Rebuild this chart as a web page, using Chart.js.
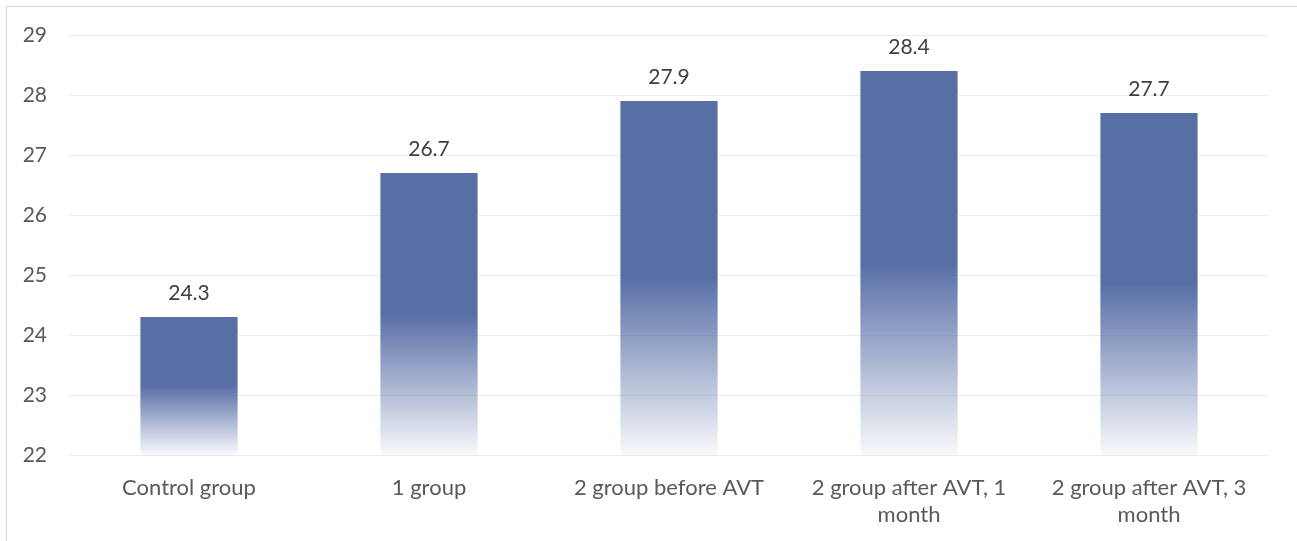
<!DOCTYPE html>
<html>
<head>
<meta charset="utf-8">
<script src="https://cdn.jsdelivr.net/npm/chart.js@4/dist/chart.umd.min.js"></script>
<style>
    html, body { margin: 0; padding: 0; background: #fff; overflow: hidden; }
    #wrap { position: relative; width: 1297px; height: 541px; }
    #frame { position: absolute; left: 6px; top: 6px; width: 1400px; height: 700px; border: 1px solid #d9d9d9; box-sizing: border-box; }
    canvas { position: absolute; left: 0; top: 0; }
</style>
</head>
<body>
<div id="wrap">
    <div id="frame"></div>
    <canvas id="chart" width="1297" height="541"></canvas>
</div>
<script>
// Data
const categories = [
    'Control group',
    '1 group',
    '2 group before AVT',
    ['2 group after AVT, 1', 'month'],
    ['2 group after AVT, 3', 'month']
];
const values = [24.3, 26.7, 27.9, 28.4, 27.7];
const yTicks = [22, 23, 24, 25, 26, 27, 28, 29];

const FONT = 'Lato, "Open Sans", sans-serif';

// fade each bar from solid blue to almost white over its lower half
function barFill(context) {
    const chart = context.chart;
    const area = chart.chartArea;
    const y = chart.scales.y;
    if (!area || !y) return '#586fa6';
    const top = y.getPixelForValue(context.raw);
    const bottom = y.getPixelForValue(y.min);
    const g = chart.ctx.createLinearGradient(0, top, 0, bottom);
    g.addColorStop(0, 'rgba(88,111,166,1)');
    g.addColorStop(0.5, 'rgba(88,111,166,1)');
    g.addColorStop(1, 'rgba(88,111,166,0.04)');
    return g;
}

// value labels on top of bars
const valueLabels = {
    id: 'valueLabels',
    afterDatasetsDraw(chart) {
        const ctx = chart.ctx;
        const meta = chart.getDatasetMeta(0);
        ctx.save();
        ctx.font = '21px ' + FONT;
        ctx.fillStyle = '#404040';
        ctx.textAlign = 'center';
        ctx.textBaseline = 'alphabetic';
        meta.data.forEach((bar, i) => {
            ctx.fillText(values[i].toFixed(1), bar.x, bar.y - 17);
        });
        ctx.restore();
    }
};

new Chart(document.getElementById('chart'), {
    type: 'bar',
    data: {
        labels: categories,
        datasets: [{
            data: values,
            backgroundColor: barFill,
            borderWidth: 0,
            categoryPercentage: 1,
            barPercentage: 0.405
        }]
    },
    options: {
        responsive: false,
        animation: false,
        layout: { padding: { left: 0, right: 28, top: 35, bottom: 0 } },
        plugins: {
            legend: { display: false },
            tooltip: { enabled: false }
        },
        scales: {
            y: {
                min: 22,
                max: 29,
                afterBuildTicks(scale) {
                    scale.ticks = yTicks.map(v => ({ value: v }));
                },
                afterFit(scale) { scale.width = 69; },
                grid: { color: '#ececec', lineWidth: 1, drawTicks: false },
                border: { display: false },
                ticks: {
                    color: '#595959',
                    font: { family: FONT, size: 21 },
                    padding: 22
                }
            },
            x: {
                afterFit(scale) { scale.height = 86; },
                grid: { display: false, drawTicks: false },
                border: { display: false },
                ticks: {
                    color: '#595959',
                    font: { family: FONT, size: 22, lineHeight: 1.23 },
                    padding: 19,
                    maxRotation: 0,
                    autoSkip: false
                }
            }
        }
    },
    plugins: [valueLabels]
});
</script>
</body>
</html>
